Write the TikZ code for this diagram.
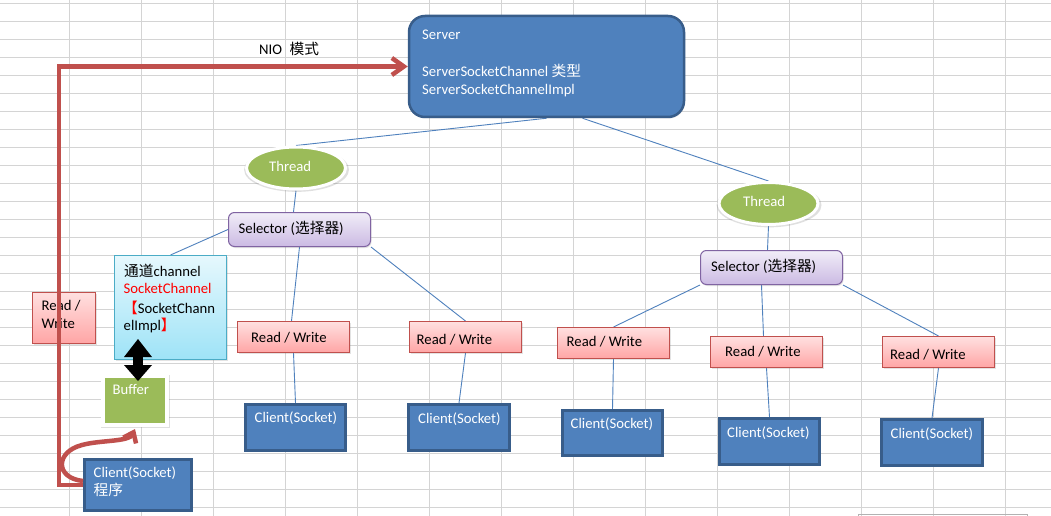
\documentclass[tikz,border=0pt]{standalone}
\usepackage{fontspec}
\setmainfont{Carlito}
\newfontfamily\cjk{Noto Sans CJK SC}
\usetikzlibrary{shapes.geometric,fit,arrows.meta,shadows}
\pgfdeclarelayer{background}
\pgfsetlayers{background,main}
\definecolor{accBlue}{HTML}{4F81BD}
\definecolor{accBlueDk}{HTML}{385D8A}
\definecolor{accGreen}{HTML}{9BBB59}
\definecolor{accRed}{HTML}{C0504D}
\definecolor{accPurple}{HTML}{8064A2}
\definecolor{accCyan}{HTML}{4BACC6}
\definecolor{gridGray}{HTML}{D4D4D4}
\definecolor{rwTop}{HTML}{FFE0E0}
\definecolor{rwBot}{HTML}{FFA5A5}
\definecolor{selTop}{HTML}{F1EDF8}
\definecolor{selBot}{HTML}{CBBAE3}
\definecolor{chTop}{HTML}{E6F8FD}
\definecolor{chBot}{HTML}{9EE3F7}
\newcommand\zh[1]{{\cjk #1}}

\begin{document}
\begin{tikzpicture}[x=1pt,y=-1pt,
  every node/.style={font=\fontsize{14.7}{18}\selectfont},
  txt/.style={anchor=base west, inner sep=0pt, text=black},
  wtxt/.style={txt, text=white},
  softshadow/.style={drop shadow={shadow xshift=1pt, shadow yshift=-1.5pt, opacity=0.22}},
  box/.style={rectangle, inner sep=0pt, softshadow},
  serverbox/.style={box, fill=accBlue, draw=accBlueDk, line width=2.5pt, rounded corners=16pt},
  clientbox/.style={box, fill=accBlue, draw=accBlueDk, line width=3pt},
  rwbox/.style={box, draw=accRed, line width=1pt, top color=rwTop, bottom color=rwBot},
  selbox/.style={box, draw=accPurple, line width=1pt, rounded corners=6pt, top color=selTop, bottom color=selBot},
  chanbox/.style={box, draw=accCyan, line width=1pt, top color=chTop, bottom color=chBot},
  bufbox/.style={rectangle, inner sep=0pt, fill=accGreen, draw=white, line width=4pt,
    drop shadow={shadow scale=1.08, shadow xshift=0.5pt, shadow yshift=-1pt, opacity=0.25}},
  threadell/.style={ellipse, fill=accGreen, draw=white, line width=3pt,
    minimum width=99pt, minimum height=42pt, inner sep=0pt,
    drop shadow={shadow scale=1.06, shadow xshift=0.5pt, shadow yshift=-1.5pt, opacity=0.25}},
  gridline/.style={draw=gridGray, line width=1pt},
  link/.style={draw=accBlue, line width=0.9pt},
  flow/.style={draw=accRed, line width=4.5pt},
]
\useasboundingbox (0,0) rectangle (1051,516);

% ---- shapes ----
\node[serverbox, fit={(409,16) (684,117)}] (srv) {};
\node[threadell] (t1) at (296,168) {};
\node[threadell] (t2) at (768.5,203.5) {};
\node[selbox, fit={(228.5,212.5) (370.5,246.5)}] (s1) {};
\node[selbox, fit={(700.5,250.5) (842.5,284.5)}] (s2) {};
\node[chanbox, fit={(114.5,255.5) (226.5,359.5)}] (ch) {};
\node[bufbox, fit={(103,376) (167,425)}] (buf) {};
\node[rwbox, fit={(32.5,292.5) (95.5,343.5)}] (rw1) {};
\node[rwbox, fit={(237.5,321.5) (349.5,352.5)}] (rw2) {};
\node[rwbox, fit={(409.5,321.5) (521.5,352.5)}] (rw3) {};
\node[rwbox, fit={(557.5,327.5) (669.5,358.5)}] (rw4) {};
\node[rwbox, fit={(710.5,336.5) (822.5,367.5)}] (rw5) {};
\node[rwbox, fit={(882.5,336.5) (994.5,367.5)}] (rw6) {};
\node[clientbox, fit={(84.5,459.5) (191.5,510.5)}] (c1) {};
\node[clientbox, fit={(245.5,404.5) (345.5,450.5)}] (c2) {};
\node[clientbox, fit={(408.5,404.5) (509.5,450.5)}] (c3) {};
\node[clientbox, fit={(562.5,410.5) (662.5,455.5)}] (c4) {};
\node[clientbox, fit={(719.5,418.5) (819.5,464.5)}] (c5) {};
\node[clientbox, fit={(881.5,419.5) (982.5,465.5)}] (c6) {};

% ---- sheet grid and thin links underneath ----
\begin{pgfonlayer}{background}
  \fill[white] (0,0) rectangle (1051,516);
  \foreach \k in {0,...,13} \draw[gridline] (69.3+72*\k,0) -- (69.3+72*\k,516);
  \foreach \k in {0,...,28} \draw[gridline] (0,3.3+18*\k) -- (1051,3.3+18*\k);
  \draw[draw=black!30, line width=1pt] (858,520) |- (1027,514) -- (1027,520);

  \draw[link] (srv.south) -- (t1.north);
  \draw[link] ([xshift=36pt]srv.south) -- (t2.north);
  \draw[link] (t1.south) -- ([xshift=-6pt]s1.north);
  \draw[link] (s1.west) -- (ch.north);
  \draw[link] (s1.south) -- ([xshift=-2pt]rw2.north);
  \draw[link] (s1.south east) -- (rw3.north);
  \draw[link] (rw2.south) -- (c2.north);
  \draw[link] (rw3.south) -- (c3.north);
  \draw[link] (t2.south) -- ([xshift=-4pt]s2.north);
  \draw[link] (s2.south west) -- (rw4.north);
  \draw[link] ([xshift=-10pt]s2.south) -- ([xshift=-3pt]rw5.north);
  \draw[link] (s2.south east) -- (rw6.north);
  \draw[link] (rw4.south) -- (c4.north);
  \draw[link] (rw5.south) -- (c5.north);
  \draw[link] (rw6.south) -- (c6.north);
\end{pgfonlayer}

% ---- texts ----
\node[txt] (nio) at (259,55) {NIO\hspace{7.5pt}\zh{模式}};
\node[wtxt] (srvl1) at (422,40) {Server};
\node[wtxt] (srvl2) at (422,77) {ServerSocketChannel \zh{类型}};
\node[wtxt] (srvl3) at (422,95) {ServerSocketChannelImpl};
\node[wtxt] (t1l) at (269,171) {Thread};
\node[wtxt] (t2l) at (743,206.5) {Thread};
\node[txt] (s1l) at (238.5,233) {Selector (\zh{选择器})};
\node[txt] (s2l) at (711,271.5) {Selector (\zh{选择器})};
\node[txt] (chl1) at (124,276) {\zh{通道}channel};
\node[txt, text=red] (chl2) at (123.5,293.5) {SocketChannel};
\node[txt] (chl3) at (123,313) {{\color{red}\zh{【}}SocketChann};
\node[txt] (chl4) at (123.5,330.5) {elImpl{\color{red}\zh{】}}};
\node[wtxt] (bufl) at (112.5,394) {Buffer};
\node[txt] (rw1l1) at (41.5,310) {Read /};
\node[txt] (rw1l2) at (41.5,328) {Write};
\node[txt] (rw2l) at (251,342) {Read / Write};
\node[txt] (rw3l) at (416.5,344) {Read / Write};
\node[txt] (rw4l) at (566.5,346.5) {Read / Write};
\node[txt] (rw5l) at (725,356.5) {Read / Write};
\node[txt] (rw6l) at (890,359.5) {Read / Write};
\node[wtxt] (c1l1) at (93.5,477.5) {Client(Socket)};
\node[wtxt] (c1l2) at (93.5,495) {\zh{程序}};
\node[wtxt] (c2l) at (254.5,422) {Client(Socket)};
\node[wtxt] (c3l) at (418,423) {Client(Socket)};
\node[wtxt] (c4l) at (570.5,428.5) {Client(Socket)};
\node[wtxt] (c5l) at (727,437.5) {Client(Socket)};
\node[wtxt] (c6l) at (890.5,438.5) {Client(Socket)};

% ---- thick red flows ----
\draw[flow, line join=miter, -{Straight Barb[length=12pt,width=17pt]}]
  (c1.west) -- ++(-24,0) |- (srv.west);
\draw[flow, -{Straight Barb[length=9pt,width=14pt]}]
  ([yshift=4pt]c1.west) .. controls (55,478) and (55,452) .. (82,445)
  .. controls (100,440) and (129,442) .. ([yshift=-2pt]buf.south);

% ---- channel <-> buffer ----
\coordinate (dtop) at (138,339);
\coordinate (dbot) at (138,381);
\draw[line width=10pt,
  {Triangle[length=18pt,width=28pt,line width=0pt]}-{Triangle[length=16pt,width=28pt,line width=0pt]}]
  (dtop) -- (dbot);
\end{tikzpicture}
\end{document}
